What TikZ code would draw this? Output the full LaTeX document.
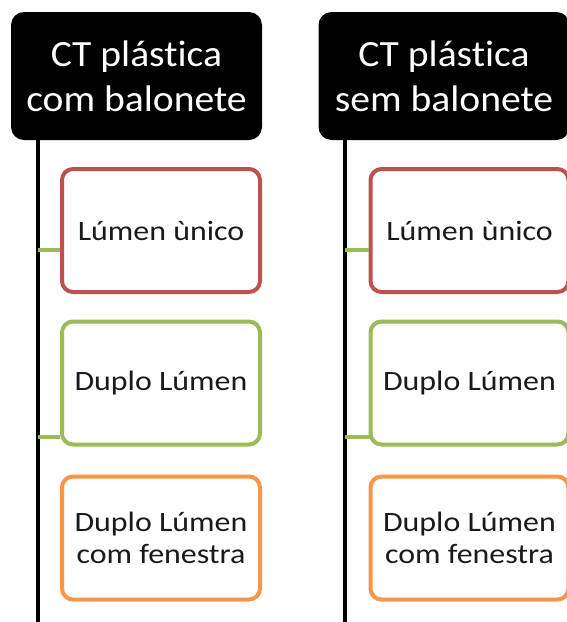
\documentclass[tikz,border=0pt]{standalone}
\usepackage{fontspec}
\setmainfont{Carlito}[Ligatures={NoCommon,NoRare}]
\newfontfamily\hfont{Carlito}[FakeStretch=1.07,Ligatures={NoCommon,NoRare}]
\newfontfamily\bfont{Carlito}[FakeStretch=1.14,Ligatures={NoCommon,NoRare}]
\definecolor{cred}{HTML}{C0504D}
\definecolor{cgreen}{HTML}{9BBB59}
\definecolor{corange}{HTML}{F79646}
\definecolor{ctext}{HTML}{1A1A1A}
\begin{document}
\begin{tikzpicture}[x=1pt,y=1pt,
  hdr/.style={fill=black, rounded corners=13pt, text=white, align=center,
    minimum height=128pt, inner sep=0pt,
    font=\hfont\fontsize{37}{45}\selectfont},
  itembox/.style={draw=#1, line width=4pt, fill=white, rounded corners=11pt,
    minimum width=198pt, minimum height=123pt, inner sep=0pt, align=center,
    text=ctext, font=\bfont\fontsize{28}{32}\selectfont},
  trunk/.style={black, line width=4pt},
  conn/.style={cgreen, line width=4pt}]
\useasboundingbox (0,0) rectangle (566,-622);
\fill[white] (0,0) rectangle (566,-622);
% left column
\node[hdr, minimum width=251pt] (h1) at (136.5,-76) {CT plástica\\com balonete};
\coordinate (t1) at (38,-622);
\draw[trunk] (t1 |- h1.south) -- (t1);
\coordinate (c11) at (38,-250);
\coordinate (c12) at (38,-437);
\node[itembox=cred]    (l1) at (161,-230.5) {Lúmen ùnico};
\node[itembox=cgreen]  (l2) at (161,-383) {Duplo Lúmen};
\node[itembox=corange] (l3) at (161,-538) {Duplo Lúmen\\com fenestra};
\draw[conn] (c11) -- (c11 -| l1.west);
\draw[conn] (c12) -- (c12 -| l2.west);
% right column
\node[hdr, minimum width=251pt] (h2) at (444,-76) {CT plástica\\sem balonete};
\coordinate (t2) at (345,-622);
\draw[trunk] (t2 |- h2.south) -- (t2);
\coordinate (c21) at (345,-250);
\coordinate (c22) at (345,-437);
\node[itembox=cred]    (r1) at (469.5,-230.5) {Lúmen ùnico};
\node[itembox=cgreen]  (r2) at (469.5,-383) {Duplo Lúmen};
\node[itembox=corange] (r3) at (469.5,-538) {Duplo Lúmen\\com fenestra};
\draw[conn] (c21) -- (c21 -| r1.west);
\draw[conn] (c22) -- (c22 -| r2.west);
\end{tikzpicture}
\end{document}
